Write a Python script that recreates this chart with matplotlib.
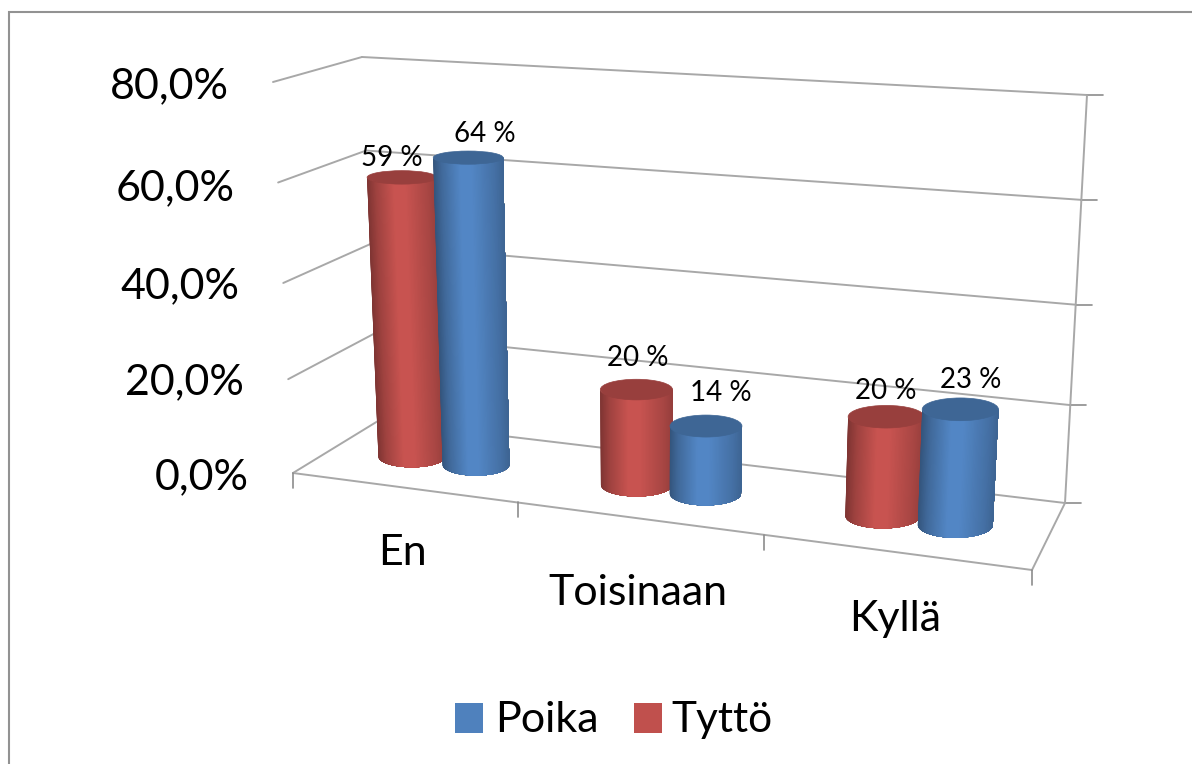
import numpy as np
import matplotlib
matplotlib.use("Agg")
import matplotlib.pyplot as plt
from matplotlib.collections import PolyCollection
from matplotlib.patches import Rectangle, Ellipse
from matplotlib.colors import to_rgb

# ---- data ----
categories = ["En", "Toisinaan", "Kyllä"]
tytto = [59, 20, 20]
poika = [64, 14, 23]
value_ticks = [0, 20, 40, 60, 80]
value_tick_labels = ["0,0%", "20,0%", "40,0%", "60,0%", "80,0%"]
legend_labels = ["Poika", "Tyttö"]

# ---- style ----
W, H = 1192, 764
RED, BLUE = "#C0504D", "#4F81BD"
GRID = "#a8a8a8"
FONT = "Lato"

# 3D box corners in image pixels: (category side, depth side, bottom/top)
CORNERS = {
    "FL0": (293, 473), "FL1": (273, 82), "BL0": (378, 421), "BL1": (362, 57),
    "FR0": (1032, 570), "FR1": (1057, 132), "BR0": (1065, 503), "BR1": (1087, 95),
}
CORNERS = {k: np.array(v, float) for k, v in CORNERS.items()}


def warp_u(u):
    return np.interp(u, [0, 1, 2, 3], [0, 0.304, 0.637, 1])


def warp_z(z):
    return np.interp(z, value_ticks, [0, 0.24, 0.486, 0.743, 1])


def project(u, v, z):
    """Category position, depth 0..1 and value -> image position."""
    a, t = warp_u(u), warp_z(z)
    c = CORNERS
    bottom = (1 - v) * ((1 - a) * c["FL0"] + a * c["FR0"]) + v * ((1 - a) * c["BL0"] + a * c["BR0"])
    top = (1 - v) * ((1 - a) * c["FL1"] + a * c["FR1"]) + v * ((1 - a) * c["BL1"] + a * c["BR1"])
    return (1 - t) * bottom + t * top


fig = plt.figure(figsize=(W / 100, H / 100), dpi=100, facecolor="white")
ax = fig.add_axes([0, 0, 1, 1])
ax.set_xlim(0, W)
ax.set_ylim(H, 0)
ax.axis("off")

# chart frame
ax.plot([8.5, 8.5, W], [H, 12, 12], color="#929292", lw=1.5, solid_joinstyle="miter", zorder=1)


def seg(p, q, lw=1.4, color=GRID):
    ax.plot([p[0], q[0]], [p[1], q[1]], color=color, lw=lw, zorder=2, solid_capstyle="round")


# walls and floor
for z in value_ticks:
    f, b, r = project(0, 0, z), project(0, 1, z), project(3, 1, z)
    seg(f, b)
    seg(b, r)
    seg(r, r + np.array([16, 0]), lw=1.2, color="#8c8c8c")
seg(project(3, 1, 0), project(3, 1, 80))
seg(project(0, 0, 0), project(3, 0, 0))
seg(project(3, 0, 0), project(3, 1, 0))
for u in range(4):
    p = project(u, 0, 0)
    seg(p, p + np.array([0, 15]), lw=1.2, color="#8c8c8c")


def shade(base, t):
    """t runs 0..1 across the cylinder."""
    rgb = np.array(to_rgb(base))
    k = np.interp(t, [0, 0.12, 0.45, 0.62, 0.88, 1], [0.78, 0.87, 1.04, 1.04, 0.82, 0.66])
    return tuple(np.clip(rgb * k, 0, 1))


BAR_OFFSET = [0.148, 0.145, 0.14]
BAR_R = [0.154, 0.15, 0.145]
DEPTH_R = 0.2
N = 90


def cylinder(u, value, r, base, zorder):
    c0, c1 = project(u, 0.5, 0), project(u, 0.5, value)
    rx0 = abs(project(u + r, 0.5, 0)[0] - project(u - r, 0.5, 0)[0]) / 2
    rx1 = abs(project(u + r, 0.5, value)[0] - project(u - r, 0.5, value)[0]) / 2
    ry0 = DEPTH_R * abs(project(u, 0, 0)[1] - project(u, 1, 0)[1])
    ry1 = DEPTH_R * abs(project(u, 0, value)[1] - project(u, 1, value)[1])
    th = np.linspace(np.pi, 0, N + 1)
    xb, yb = c0[0] + rx0 * np.cos(th), c0[1] + ry0 * np.sin(th)
    xt, yt = c1[0] + rx1 * np.cos(th), c1[1] + ry1 * np.sin(th)
    # painter's order: every band reaches to the right edge, so no seams show
    polys, cols = [], []
    for i in range(N):
        polys.append(np.column_stack([np.r_[xt[i:], xb[i:][::-1]], np.r_[yt[i:], yb[i:][::-1]]]))
        cols.append(shade(base, 0.5 - 0.5 * np.cos(th[i] + (th[1] - th[0]) / 2)))
    ax.add_collection(PolyCollection(polys, facecolors=cols, edgecolors="none", zorder=zorder))
    top_col = tuple(np.array(to_rgb(base)) * 0.79)
    ax.add_patch(Ellipse(c1, 2 * rx1, 2 * ry1, facecolor=top_col, edgecolor=top_col, lw=0.5, zorder=zorder + 0.1))
    return c1


# per-label nudges from the top of each cylinder
tytto_nudge = [(-10, -19), (1, -32), (0, -26)]
poika_nudge = [(17, -24), (15, -33), (10, -29)]

for i, cat in enumerate(categories):
    centre = i + 0.5
    top_t = cylinder(centre - BAR_OFFSET[i], tytto[i], BAR_R[i], RED, 4 + i)
    top_p = cylinder(centre + BAR_OFFSET[i], poika[i], BAR_R[i], BLUE, 4.5 + i)
    ax.text(top_t[0] + tytto_nudge[i][0], top_t[1] + tytto_nudge[i][1], f"{tytto[i]} %",
            ha="center", va="center", fontsize=20, family=FONT, color="black", zorder=10)
    ax.text(top_p[0] + poika_nudge[i][0], top_p[1] + poika_nudge[i][1], f"{poika[i]} %",
            ha="center", va="center", fontsize=20, family=FONT, color="black", zorder=10)

# value axis labels
tick_nudge = [4, 3, 3, 6, 4]
for z, lab, dy in zip(value_ticks, value_tick_labels, tick_nudge):
    p = project(0, 0, z)
    ax.text(p[0] - 44, p[1] + dy, lab, ha="right", va="center", fontsize=31, family=FONT, color="black")

# category labels
cat_pos = [(403, 553), (637.5, 593), (895, 619)]
for cat, (x, y) in zip(categories, cat_pos):
    ax.text(x, y, cat, ha="center", va="center", fontsize=31, family=FONT, color="black")

# legend
ax.add_patch(Rectangle((455, 703), 28, 30, facecolor=BLUE, edgecolor="none"))
ax.add_patch(Rectangle((634, 703), 28, 30, facecolor=RED, edgecolor="none"))
ax.text(495, 720, legend_labels[0], ha="left", va="center", fontsize=31, family=FONT, color="black")
ax.text(671, 720, legend_labels[1], ha="left", va="center", fontsize=30.5, family=FONT, color="black")

fig.savefig("out.png", dpi=100, facecolor="white")
